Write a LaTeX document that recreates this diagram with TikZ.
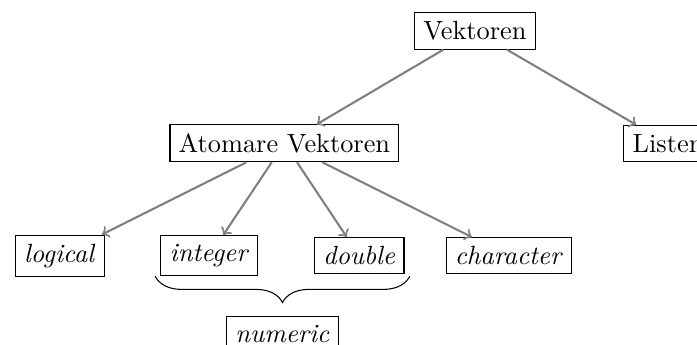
\documentclass[tikz,border=0pt]{standalone}
\usetikzlibrary{decorations.pathreplacing}
\begin{document}
\begin{tikzpicture}[
  box/.style={draw, inner sep=3.33pt},
  link/.style={->, draw=gray, thick},
  curly/.style={decorate, decoration={brace, mirror, amplitude=10pt}},
]
\useasboundingbox (-180.5pt,-119.3pt) rectangle (84.4pt,11.8pt);
\node[box] (vek) at (0,0) {Vektoren};
\node[box] (atom) at (-72.4pt,-42.68pt) {Atomare Vektoren};
\node[box] (list) at (73.4pt,-42.68pt) {Listen};
\node[box] (log) at (-157.8pt,-85.36pt) {\textit{logical}};
\node[box] (int) at (-100.9pt,-85.36pt) {\textit{integer}};
\node[box] (dbl) at (-44.0pt,-85.36pt) {\textit{double}};
\node[box] (chr) at (12.9pt,-85.36pt) {\textit{character}};
\draw[link] (vek) -- (atom);
\draw[link] (vek) -- (list);
\draw[link] (atom) -- (log);
\draw[link] (atom) -- (int);
\draw[link] (atom) -- (dbl);
\draw[link] (atom) -- (chr);
\coordinate (bl) at ([xshift=-2pt]int.south west);
\coordinate (br) at ([xshift=2pt]int.south west -| dbl.south east);
\draw[curly] (bl) -- (br) node[box, midway, below=15pt] (num) {\textit{numeric}};
\end{tikzpicture}
\end{document}
